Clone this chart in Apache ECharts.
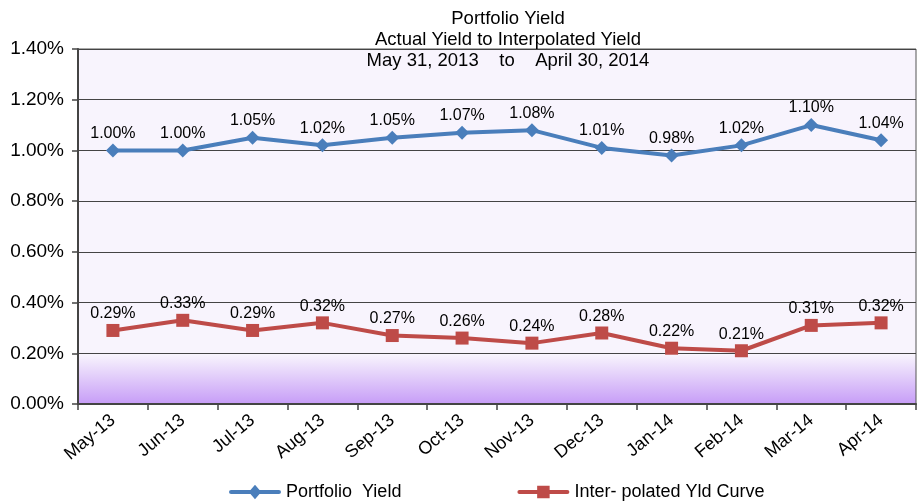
<!DOCTYPE html>
<html>
<head>
<meta charset="utf-8">
<script src="https://cdn.jsdelivr.net/npm/echarts@6/dist/echarts.min.js"></script>
<style>
  html, body { margin: 0; padding: 0; background: #fff; }
  #main { width: 917px; height: 502px; }
</style>
</head>
<body>
<div id="main"></div>
<script>
  var months = ['May-13', 'Jun-13', 'Jul-13', 'Aug-13', 'Sep-13', 'Oct-13',
                'Nov-13', 'Dec-13', 'Jan-14', 'Feb-14', 'Mar-14', 'Apr-14'];
  var portfolioYield = [1.00, 1.00, 1.05, 1.02, 1.05, 1.07, 1.08, 1.01, 0.98, 1.02, 1.10, 1.04];
  var interpolatedYield = [0.29, 0.33, 0.29, 0.32, 0.27, 0.26, 0.24, 0.28, 0.22, 0.21, 0.31, 0.32];
  var titleLines = ['Portfolio Yield', 'Actual Yield to Interpolated Yield', 'May 31, 2013    to    April 30, 2014'];

  var font = 'Arial, "Liberation Sans", sans-serif';
  var myChart = echarts.init(document.getElementById('main'));

  // legend icons: line with marker in the middle
  var iconDiamond = 'path://M2,6 L48,6 A2,2 0 0 1 48,10 L2,10 A2,2 0 0 1 2,6 Z M25,1 L31,8 L25,15 L19,8 Z';
  var iconSquare = 'path://M2,6 L48,6 A2,2 0 0 1 48,10 L2,10 A2,2 0 0 1 2,6 Z M19,2 L31,2 L31,14 L19,14 Z';

  var pct = function (p) { return p.value.toFixed(2) + '%'; };

  var option = {
    animation: false,
    title: {
      text: titleLines.join('\n'),
      left: 503,
      top: 3,
      textAlign: 'center',
      textStyle: { fontFamily: font, fontSize: 18.5, fontWeight: 'normal', color: '#000', lineHeight: 21 }
    },
    legend: {
      top: 478,
      left: 224,
      itemGap: 116,
      itemWidth: 52,
      itemHeight: 16,
      textStyle: { fontFamily: font, fontSize: 18, color: '#000' },
      data: [
        { name: 'Portfolio  Yield', icon: iconDiamond },
        { name: 'Inter- polated Yld Curve', icon: iconSquare }
      ]
    },
    grid: {
      left: 78,
      right: 1,
      top: 49,
      bottom: 98,
      show: true,
      backgroundColor: new echarts.graphic.LinearGradient(0, 0, 0, 1, [
        { offset: 0, color: '#f8f4fd' },
        { offset: 0.86, color: '#f8f4fd' },
        { offset: 1, color: '#c69cf7' }
      ]),
      borderColor: '#555',
      borderWidth: 1
    },
    xAxis: {
      type: 'category',
      data: months,
      boundaryGap: true,
      axisLine: { lineStyle: { color: '#444', width: 2 } },
      axisTick: { show: true, length: 6, lineStyle: { color: '#444', width: 1.5 } },
      axisLabel: { rotate: 40, fontFamily: font, fontSize: 18, color: '#000', margin: 14 }
    },
    yAxis: {
      type: 'value',
      min: 0,
      max: 1.4,
      interval: 0.2,
      axisLine: { show: true, lineStyle: { color: '#444', width: 2 } },
      axisTick: { show: true, length: 6, lineStyle: { color: '#444', width: 1.5 } },
      splitLine: { lineStyle: { color: '#444', width: 1 } },
      axisLabel: {
        fontFamily: font, fontSize: 19, color: '#000', margin: 14,
        formatter: function (v) { return v.toFixed(2) + '%'; }
      }
    },
    series: [
      {
        name: 'Portfolio  Yield',
        type: 'line',
        data: portfolioYield,
        symbol: 'diamond',
        symbolSize: 14,
        z: 3,
        lineStyle: { color: '#4a7ebb', width: 4 },
        itemStyle: { color: '#4a7ebb' },
        label: {
          show: true, position: 'top', distance: 2,
          fontFamily: font, fontSize: 16, color: '#000',
          formatter: pct
        }
      },
      {
        name: 'Inter- polated Yld Curve',
        type: 'line',
        data: interpolatedYield,
        symbol: 'rect',
        symbolSize: 13,
        z: 3,
        lineStyle: { color: '#be4b48', width: 4 },
        itemStyle: { color: '#be4b48' },
        label: {
          show: true, position: 'top', distance: 2,
          fontFamily: font, fontSize: 16, color: '#000',
          formatter: pct
        }
      }
    ]
  };
  myChart.setOption(option);
</script>
</body>
</html>
